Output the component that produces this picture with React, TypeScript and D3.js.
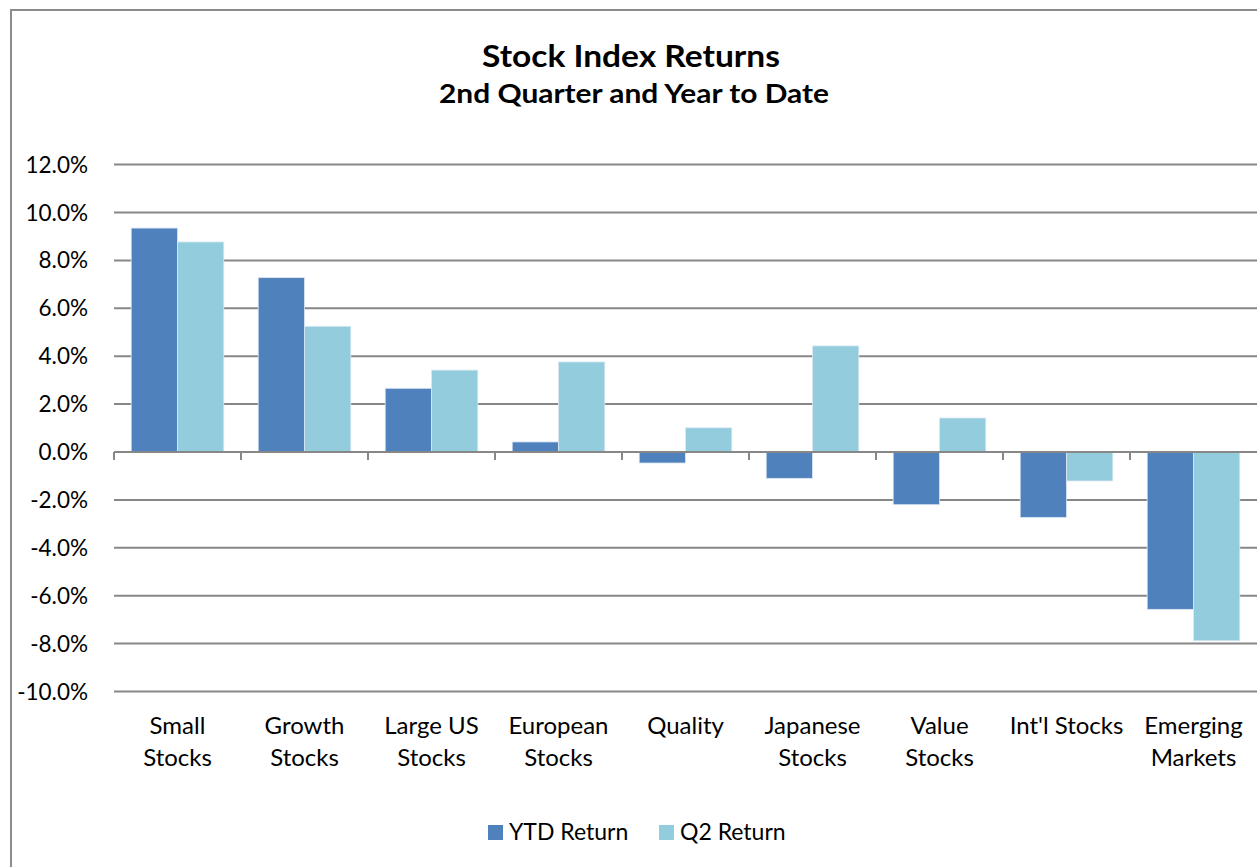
import React from "react";
import * as d3 from "d3";

const categories = [
  "Small\nStocks",
  "Growth\nStocks",
  "Large US\nStocks",
  "European\nStocks",
  "Quality",
  "Japanese\nStocks",
  "Value\nStocks",
  "Int'l Stocks",
  "Emerging\nMarkets",
];
const ytdReturn = [9.35, 7.28, 2.66, 0.42, -0.46, -1.1, -2.2, -2.73, -6.57];
const q2Return = [8.77, 5.25, 3.42, 3.76, 1.01, 4.43, 1.42, -1.21, -7.88];
const yTicks = [12, 10, 8, 6, 4, 2, 0, -2, -4, -6, -8, -10];
const seriesNames = ["YTD Return", "Q2 Return"];
const seriesColors = ["#4F81BD", "#93CDDD"];

const W = 1257;
const H = 867;
const FONT = "Lato, 'Open Sans', sans-serif";

export default function App() {
  const x = d3.scaleBand<string>().domain(categories).range([114, 1257]).paddingInner(0).paddingOuter(0);
  const y = d3.scaleLinear().domain([-10, 12]).range([691.5, 164.6]);
  const bw = x.bandwidth();
  const groupPad = 17.2;
  const barW = (bw - 2 * groupPad) / 2;
  const series = [ytdReturn, q2Return];
  const fmt = (t: number) => d3.format(".1f")(t).replace("\u2212", "-") + "%";

  return (
    <svg
      width={W}
      height={H}
      style={{ position: "absolute", left: 0, top: 0, background: "#fff" }}
      fontFamily={FONT}
    >
      <rect x={11} y={10} width={W + 20} height={H + 20} fill="#fff" stroke="#8c8c8c" strokeWidth={2} />
      <text x={631} y={66.5} textAnchor="middle" fontSize={31} fontWeight="bold" fill="#000" textLength={298} lengthAdjust="spacingAndGlyphs">
        Stock Index Returns
      </text>
      <text x={634} y={102.5} textAnchor="middle" fontSize={26.5} fontWeight="bold" fill="#000" textLength={390} lengthAdjust="spacingAndGlyphs">
        2nd Quarter and Year to Date
      </text>

      {yTicks.map((t) => (
        <g key={t}>
          {t !== 0 && (
            <line x1={114} x2={W} y1={y(t)} y2={y(t)} stroke="#878787" strokeWidth={2} />
          )}
          <text x={88} y={y(t) + 8} textAnchor="end" fontSize={22.5} fill="#000">
            {fmt(t)}
          </text>
        </g>
      ))}

      {series.map((vals, si) =>
        vals.map((v, i) => {
          const x0 = (x(categories[i]) as number) + groupPad + si * barW;
          const y0 = y(Math.max(0, v));
          const h = Math.abs(y(v) - y(0));
          return (
            <rect
              key={`${si}-${i}`}
              x={x0}
              y={y0}
              width={barW}
              height={h}
              fill={seriesColors[si]}
              stroke="#dbe8f3"
              strokeWidth={0.8}
            />
          );
        })
      )}

      <line x1={114} x2={W} y1={y(0)} y2={y(0)} stroke="#878787" strokeWidth={2} />
      {categories.map((c) => (
        <line
          key={c}
          x1={x(c) as number}
          x2={x(c) as number}
          y1={y(0)}
          y2={y(0) + 8}
          stroke="#878787"
          strokeWidth={2}
        />
      ))}

      {categories.map((c) => {
        const lines = c.split("\n");
        const cx = (x(c) as number) + bw / 2;
        return (
          <text key={c} x={cx} textAnchor="middle" fontSize={24} fill="#000">
            {lines.map((ln, li) => (
              <tspan key={li} x={cx} y={733.5 + li * 32.5}>
                {ln}
              </tspan>
            ))}
          </text>
        );
      })}

      {seriesNames.map((n, i) => {
        const lx = [488, 659][i];
        return (
          <g key={n}>
            <rect x={lx} y={825} width={15} height={15} fill={seriesColors[i]} />
            <text x={lx + 21} y={839.5} fontSize={23} fill="#000">
              {n}
            </text>
          </g>
        );
      })}
    </svg>
  );
}
